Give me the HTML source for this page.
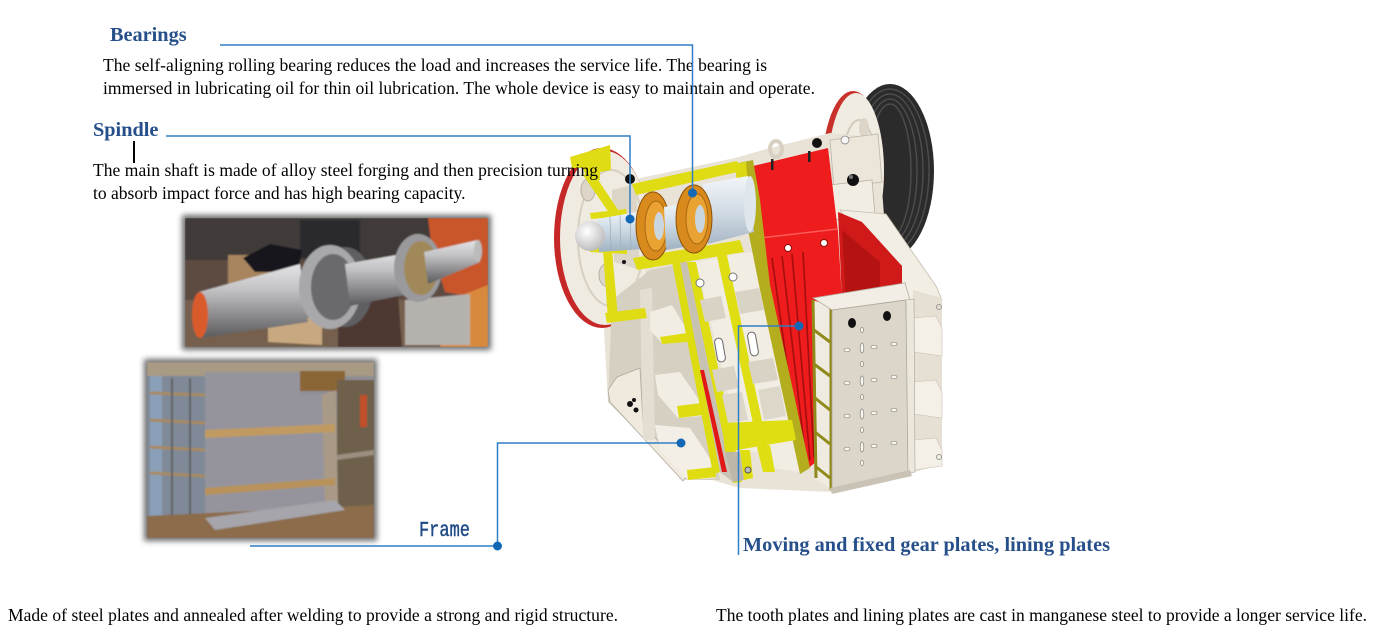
<!DOCTYPE html>
<html><head><meta charset="utf-8">
<style>
html,body{margin:0;padding:0;background:#fff;width:1381px;height:644px;overflow:hidden}
svg{display:block}
</style></head><body>
<svg width="1381" height="644" viewBox="0 0 1381 644" xmlns="http://www.w3.org/2000/svg">
<defs>
 <filter id="sh" x="-10%" y="-10%" width="120%" height="120%"><feGaussianBlur stdDeviation="3"/></filter>
 <filter id="soft" x="-5%" y="-5%" width="110%" height="110%"><feGaussianBlur stdDeviation="0.8"/></filter>
 <linearGradient id="steel" x1="0" y1="0" x2="0" y2="1">
  <stop offset="0" stop-color="#e4e4e6"/><stop offset="0.35" stop-color="#c2c2c4"/><stop offset="0.7" stop-color="#8a8a8c"/><stop offset="1" stop-color="#5a5a5c"/>
 </linearGradient>
 <linearGradient id="shaftb" x1="0" y1="0" x2="0" y2="1">
  <stop offset="0" stop-color="#eef4f8"/><stop offset="0.5" stop-color="#c9d7e2"/><stop offset="1" stop-color="#9fb2c2"/>
 </linearGradient>
 <linearGradient id="cyl" x1="0" y1="0" x2="0" y2="1">
  <stop offset="0" stop-color="#f2f5f8"/><stop offset="0.5" stop-color="#d3dde6"/><stop offset="1" stop-color="#a9b8c6"/>
 </linearGradient>
 <radialGradient id="dome" cx="0.4" cy="0.35" r="0.7">
  <stop offset="0" stop-color="#ffffff"/><stop offset="1" stop-color="#b9b9b9"/>
 </radialGradient>
 <clipPath id="p1"><rect x="185" y="218" width="303" height="129"/></clipPath>
 <clipPath id="p2"><rect x="147" y="362" width="227" height="176"/></clipPath>
</defs>

<!-- ================= PHOTO 1 (shaft) ================= -->
<rect x="182" y="215" width="309" height="135" fill="#555" filter="url(#sh)" opacity="0.85"/>
<g clip-path="url(#p1)"><g filter="url(#soft)">
 <rect x="185" y="218" width="303" height="129" fill="#5d4c42"/>
 <rect x="185" y="218" width="303" height="42" fill="#3f3a38"/>
 <rect x="185" y="300" width="303" height="47" fill="#76604e"/>
 <rect x="300" y="220" width="60" height="38" fill="#2a2a2e"/>
 <polygon points="428,218 488,218 488,300 445,292 432,250" fill="#c8562a"/>
 <polygon points="455,298 488,285 488,347 440,347" fill="#d9893c"/>
 <rect x="228" y="255" width="68" height="40" fill="#a8845f"/>
 <polygon points="243,258 270,244 302,250 298,272 255,272" fill="#16161e"/>
 <polygon points="405,300 470,294 470,345 405,345" fill="#b5b2ae"/>
 <polygon points="338,300 398,294 402,347 338,347" fill="#4d3830"/>
 <polygon points="268,316 322,318 322,345 268,342" fill="#c8a880"/>
 <polygon points="199,292 300,264 308,322 201,338" fill="url(#steel)"/>
 <ellipse cx="200" cy="315" rx="8" ry="23" fill="#d95a2a"/>
 <ellipse cx="345" cy="287" rx="28" ry="40" fill="#5e5e62"/>
 <ellipse cx="330" cy="287" rx="31" ry="42" fill="#a8a8ab"/>
 <ellipse cx="333" cy="287" rx="22" ry="33" fill="#6a6a6e"/>
 <polygon points="345,264 425,250 428,290 350,306" fill="url(#steel)"/>
 <ellipse cx="418" cy="268" rx="24" ry="34" fill="#9a9a9c"/>
 <ellipse cx="421" cy="268" rx="17" ry="27" fill="#a08858"/>
 <polygon points="424,252 478,240 480,262 428,284" fill="url(#steel)"/>
 <ellipse cx="478" cy="251" rx="4" ry="11" fill="#bbb"/>
</g></g>

<!-- ================= PHOTO 2 (frame) ================= -->
<rect x="144" y="359" width="233" height="182" fill="#555" filter="url(#sh)" opacity="0.85"/>
<g clip-path="url(#p2)"><g filter="url(#soft)">
 <rect x="147" y="362" width="227" height="176" fill="#8f8e94"/>
 <rect x="147" y="362" width="227" height="14" fill="#a99a84"/>
 <rect x="147" y="376" width="58" height="150" fill="#7f8997"/>
 <rect x="150" y="376" width="12" height="145" fill="#8aa0b8"/>
 <g stroke="#a88a60" stroke-width="3">
  <line x1="150" y1="393" x2="205" y2="395"/><line x1="150" y1="420" x2="205" y2="423"/>
  <line x1="150" y1="447" x2="205" y2="450"/><line x1="150" y1="473" x2="205" y2="476"/>
 </g>
 <g stroke="#5e5f66" stroke-width="2"><line x1="172" y1="378" x2="172" y2="520"/><line x1="190" y1="378" x2="190" y2="520"/></g>
 <polygon points="205,372 300,372 300,395 322,395 335,388 335,500 205,520" fill="#95949c"/>
 <rect x="300" y="371" width="45" height="20" fill="#8a6536"/>
 <rect x="337" y="380" width="37" height="150" fill="#6e604c"/>
 <rect x="360" y="395" width="7" height="32" fill="#c0502c"/>
 <polygon points="322,395 336,390 338,505 325,510" fill="#a89a86"/>
 <polygon points="205,430 335,424 335,432 205,438" fill="#c09a60"/>
 <polygon points="205,488 335,478 335,485 205,495" fill="#b8925a"/>
 <polygon points="337,455 374,450 374,455 337,460" fill="#9c8f80"/>
 <polygon points="147,516 374,505 374,538 147,538" fill="#8c6c4c"/>
 <polygon points="205,518 335,500 345,510 215,530" fill="#a6a5ab"/>
</g></g>

<!-- ================= CRUSHER ================= -->
<!-- right flywheel -->
<ellipse cx="890" cy="171" rx="44" ry="87" fill="#2b2b2b"/>
<g fill="none" stroke="#4d4d4d" stroke-width="1.4">
 <ellipse cx="890" cy="171" rx="39" ry="82"/><ellipse cx="890" cy="171" rx="33" ry="77"/>
 <ellipse cx="890" cy="171" rx="27" ry="72"/><ellipse cx="890" cy="171" rx="21" ry="67"/>
</g>
<ellipse cx="853" cy="171" rx="31" ry="80" fill="#c8322a"/>
<ellipse cx="856" cy="171" rx="28" ry="78" fill="#f1ece2"/>
<ellipse cx="859" cy="170" rx="17" ry="50" fill="none" stroke="#d2cbbe" stroke-width="2"/>
<ellipse cx="864" cy="128" rx="5" ry="10" fill="#ddd5c7"/>

<!-- main body backdrop -->
<polygon points="606,205 640,178 735,158 770,148 830,133 878,138 884,215 935,285 942,300 942,462 912,473 832,492 740,488 712,480 686,480 608,402 604,330" fill="#e9e3d7"/>

<!-- right bearing housing -->
<polygon points="830,140 878,134 882,182 834,188" fill="#ebe5da" stroke="#bdb6a8" stroke-width="0.8"/>
<polygon points="830,185 872,180 875,215 834,220" fill="#f2ede3" stroke="#b9b2a4" stroke-width="0.8"/>
<circle cx="853" cy="180" r="6" fill="#111"/><circle cx="851" cy="177" r="2" fill="#777"/>
<circle cx="817" cy="143" r="5" fill="#111"/>
<circle cx="845" cy="140" r="4" fill="#f6f6f6" stroke="#888" stroke-width="0.8"/>
<!-- right rail -->
<polygon points="840,210 886,214 936,286 942,300 906,300 875,262" fill="#f3eee4" stroke="#c4bdb0" stroke-width="0.8"/>
<!-- lifting lug -->
<ellipse cx="776" cy="149" rx="6" ry="8" fill="none" stroke="#d8d0c2" stroke-width="4"/>

<!-- red side panel -->
<polygon points="838,212 862,222 902,266 902,292 880,298 842,300" fill="#d01a1a"/>
<polygon points="842,230 880,262 880,296 846,300" fill="#b51212"/>
<!-- red block + fixed jaw -->
<polygon points="753,166 828,148 838,232 842,300 820,300 816,462 806,470 768,290 758,200" fill="#ee1c1c"/>
<line x1="760" y1="238" x2="838" y2="229" stroke="#ff5a5a" stroke-width="1.5"/>
<circle cx="788" cy="248" r="3.5" fill="#fff" stroke="#8a0c0c"/>
<circle cx="824" cy="243" r="3.5" fill="#fff" stroke="#8a0c0c"/>
<rect x="771" y="159" width="2.5" height="11" fill="#222"/>
<rect x="808" y="151" width="2.5" height="11" fill="#222"/>
<g stroke="#a50e0e" stroke-width="1.6">
 <line x1="772" y1="258" x2="801" y2="465"/><line x1="782" y1="256" x2="806" y2="462"/>
 <line x1="792" y1="254" x2="810" y2="460"/><line x1="803" y1="252" x2="814" y2="458"/>
</g>

<!-- left flywheel -->
<ellipse cx="602" cy="238" rx="48" ry="90" fill="#c62828"/>
<ellipse cx="605" cy="238" rx="45" ry="87" fill="#f0ebe1"/>
<ellipse cx="611" cy="238" rx="33" ry="68" fill="none" stroke="#d6cfc2" stroke-width="2"/>
<ellipse cx="588" cy="190" rx="7" ry="11" fill="#ddd6c8" stroke="#b8b0a0"/>
<ellipse cx="606" cy="275" rx="7" ry="11" fill="#ddd6c8" stroke="#b8b0a0"/>

<!-- housing region right of flywheel -->
<polygon points="612,190 636,184 640,270 614,262" fill="#dcd6c9"/>
<circle cx="630" cy="179" r="5" fill="#111"/>
<circle cx="624" cy="262" r="2" fill="#111"/><circle cx="612" cy="248" r="2" fill="#111"/>

<!-- left frame lower section -->
<polygon points="612,300 650,270 690,262 720,480 686,480 608,402" fill="#d6d0c3"/>
<polygon points="608,390 617,377 640,368 643,423 687,476 683,481 610,402" fill="#efe9de" stroke="#b0a99c" stroke-width="0.8"/>
<polygon points="640,290 652,288 655,440 643,440" fill="#e4ded2"/>
<polygon points="650,312 672,305 687,330 687,340 662,343 650,330" fill="#f2ede3"/>
<polygon points="660,337 687,333 687,342 662,344" fill="#e0dc12"/>
<polygon points="655,375 680,372 702,404 702,416 678,418 658,395" fill="#f2ede3"/>
<polygon points="677,406 702,403 703,415 679,418" fill="#e0dc12"/>
<polygon points="655,425 690,428 715,466 715,478 688,480 660,450" fill="#f4efe6"/>
<polygon points="687,470 715,467 716,477 688,480" fill="#e0dc12"/>
<g fill="#111"><circle cx="630" cy="404" r="3"/><circle cx="636" cy="410" r="2.5"/><circle cx="634" cy="400" r="2"/></g>

<!-- cut strips and pitman -->
<polygon points="672,262 680,262 720,472 713,474" fill="#dcdc10"/>
<polygon points="680,262 688,262 733,482 720,472" fill="#c8c2b5"/>
<polygon points="700,370 704,370 727,472 722,472" fill="#e01818"/>
<polygon points="687,262 696,262 742,482 733,483" fill="#dede12"/>
<polygon points="696,262 717,258 760,452 742,452" fill="#f2ede3"/>
<polygon points="700,300 721,296 726,318 705,322" fill="#d9d3c6"/>
<polygon points="712,370 734,366 739,388 717,392" fill="#d9d3c6"/>
<polygon points="722,395 742,392 748,420 728,423" fill="#ddd7ca"/>
<polygon points="717,256 727,255 772,468 763,470" fill="#dede12"/>
<polygon points="727,255 753,252 800,472 772,468" fill="#f2ede3"/>
<polygon points="735,292 759,288 764,310 740,314" fill="#d9d3c6"/>
<polygon points="748,362 773,358 778,380 753,384" fill="#d9d3c6"/>
<polygon points="758,390 780,386 786,416 764,420" fill="#ddd7ca"/>
<!-- olive fixed jaw frame -->
<polygon points="734,164 753,160 760,200 770,285 810,468 800,474 760,290 748,230" fill="#b4ae1e"/>
<polygon points="735,164 746,162 752,230 742,232" fill="#dcd814"/>
<!-- slots and holes -->
<rect x="716" y="338" width="8" height="24" rx="4" fill="#fff" stroke="#666" transform="rotate(-10 720 350)"/>
<rect x="749" y="332" width="8" height="24" rx="4" fill="#fff" stroke="#666" transform="rotate(-10 753 344)"/>
<circle cx="700" cy="283" r="4" fill="#fff" stroke="#777"/>
<circle cx="733" cy="277" r="4" fill="#fff" stroke="#777"/>
<!-- bottom band -->
<polygon points="722,423 792,420 796,440 725,452" fill="#dede12"/>
<polygon points="725,452 740,452 744,480 733,482" fill="#bdb7aa"/>
<polygon points="740,450 750,450 753,478 744,480" fill="#dede12"/>
<polygon points="757,447 770,445 775,472 763,472" fill="#dede12"/>
<circle cx="748" cy="470" r="3" fill="#bbb" stroke="#555"/>

<!-- yellow hub section of left flywheel -->
<polygon points="570,157 610,145 611,170 600,172 600,180 588,183 583,168 572,168" fill="#e0dc14"/>
<polygon points="583,175 593,172 620,213 612,217" fill="#e0dc14"/>
<polygon points="590,213 626,209 627,216 591,219" fill="#e0dc14"/>
<polygon points="590,246 627,248 627,254 590,252" fill="#e0dc14"/>
<polygon points="603,250 612,250 618,318 608,320" fill="#e0dc14"/>
<polygon points="605,313 645,308 647,318 607,323" fill="#e0dc14"/>
<!-- bearing housing yellow -->
<polygon points="632,184 737,161 742,171 636,195" fill="#e0dc14"/>
<polygon points="633,258 740,240 744,252 637,270" fill="#e0dc14"/>

<!-- shaft and bearings -->
<polygon points="597,219 642,211 644,249 599,252" fill="url(#shaftb)"/>
<g stroke="#9fb0be" stroke-width="0.8"><line x1="610" y1="217" x2="611" y2="251"/><line x1="620" y1="215" x2="621" y2="251"/><line x1="630" y1="213" x2="631" y2="250"/></g>
<ellipse cx="590" cy="236" rx="15" ry="15" fill="url(#dome)"/>
<ellipse cx="653" cy="226" rx="17" ry="34" fill="#d98a1c" stroke="#8a5008" stroke-width="1"/>
<ellipse cx="656" cy="226" rx="11" ry="25" fill="#eaa232" stroke="#a86812" stroke-width="1"/>
<ellipse cx="659" cy="226" rx="5" ry="14" fill="#c9d6e0"/>
<polygon points="664,207 682,204 684,247 666,250" fill="url(#shaftb)"/>
<polygon points="703,184 748,176 754,232 708,244" fill="url(#cyl)"/>
<ellipse cx="750" cy="204" rx="6" ry="28" fill="#dfe6ec"/>
<ellipse cx="694" cy="219" rx="18" ry="34" fill="#d98a1c" stroke="#8a5008" stroke-width="1"/>
<ellipse cx="697" cy="219" rx="11" ry="25" fill="#eaa232" stroke="#a86812" stroke-width="1"/>
<ellipse cx="700" cy="219" rx="5" ry="14" fill="#c9d6e0"/>

<!-- end plate -->
<polygon points="913,290 942,298 942,465 913,472" fill="#e6e0d4"/>
<polygon points="914,318 936,316 942,328 942,356 914,352" fill="#f5f0e7" stroke="#c9c2b5" stroke-width="0.6"/>
<polygon points="914,382 936,380 942,392 942,418 914,414" fill="#f5f0e7" stroke="#c9c2b5" stroke-width="0.6"/>
<polygon points="914,440 936,438 942,450 942,466 914,470" fill="#f5f0e7" stroke="#c9c2b5" stroke-width="0.6"/>
<circle cx="939" cy="307" r="2.5" fill="none" stroke="#999"/>
<circle cx="939" cy="457" r="2.5" fill="none" stroke="#999"/>
<polygon points="812,300 832,306 832,490 815,478" fill="#f0ebe1"/>
<g stroke="#8f8a1a" stroke-width="3" fill="none">
 <line x1="813" y1="300" x2="816" y2="478"/><line x1="831" y1="306" x2="831" y2="490"/>
 <line x1="814" y1="330" x2="830" y2="342"/><line x1="814" y1="364" x2="830" y2="376"/>
 <line x1="815" y1="398" x2="830" y2="410"/><line x1="815" y1="432" x2="830" y2="444"/>
 <line x1="815" y1="466" x2="830" y2="478"/>
</g>
<polygon points="813,298 905,283 910,300 832,310" fill="#f3eee5" stroke="#b3ac9e" stroke-width="0.8"/>
<polygon points="832,310 906,300 908,473 832,490" fill="#dcd6ca" stroke="#aaa396" stroke-width="0.8"/>
<polygon points="906,300 914,299 915,472 908,473" fill="#ece7dc" stroke="#aaa396" stroke-width="0.6"/>
<polygon points="830,488 910,470 912,476 832,494" fill="#c9c2b5"/>
<ellipse cx="852" cy="323" rx="4" ry="5" fill="#111"/>
<ellipse cx="887" cy="316" rx="4" ry="5" fill="#111"/>
<g fill="#f8f6f0" stroke="#8a8478" stroke-width="0.7">
 <ellipse cx="847" cy="350" rx="3" ry="1.8"/><ellipse cx="874" cy="347" rx="3" ry="1.8"/><ellipse cx="894" cy="344" rx="3" ry="1.8"/>
 <ellipse cx="847" cy="383" rx="3" ry="1.8"/><ellipse cx="874" cy="380" rx="3" ry="1.8"/><ellipse cx="894" cy="377" rx="3" ry="1.8"/>
 <ellipse cx="847" cy="416" rx="3" ry="1.8"/><ellipse cx="874" cy="413" rx="3" ry="1.8"/><ellipse cx="894" cy="410" rx="3" ry="1.8"/>
 <ellipse cx="847" cy="449" rx="3" ry="1.8"/><ellipse cx="874" cy="446" rx="3" ry="1.8"/><ellipse cx="894" cy="443" rx="3" ry="1.8"/>
 <ellipse cx="862" cy="348" rx="1.8" ry="5"/><ellipse cx="862" cy="381" rx="1.8" ry="5"/>
 <ellipse cx="862" cy="414" rx="1.8" ry="5"/><ellipse cx="862" cy="447" rx="1.8" ry="5"/>
 <ellipse cx="862" cy="330" rx="1.5" ry="2.5"/><ellipse cx="862" cy="364" rx="1.5" ry="2.5"/>
 <ellipse cx="862" cy="397" rx="1.5" ry="2.5"/><ellipse cx="862" cy="430" rx="1.5" ry="2.5"/><ellipse cx="862" cy="463" rx="1.5" ry="2.5"/>
</g>

<!-- ================= TEXT ================= -->
<g font-family="'Liberation Serif', serif">
 <text x="110" y="41" font-size="20.3" font-weight="bold" fill="#27508b">Bearings</text>
 <text x="103" y="71" font-size="17.5" fill="#000" textLength="664" lengthAdjust="spacing">The self-aligning rolling bearing reduces the load and increases the service life. The bearing is</text>
 <text x="103" y="94" font-size="17.5" fill="#000" textLength="712" lengthAdjust="spacing">immersed in lubricating oil for thin oil lubrication. The whole device is easy to maintain and operate.</text>
 <text x="93" y="136" font-size="20.3" font-weight="bold" fill="#27508b">Spindle</text>
 <text x="93" y="176" font-size="17.5" fill="#000" textLength="505" lengthAdjust="spacing">The main shaft is made of alloy steel forging and then precision turning</text>
 <text x="93" y="199" font-size="17.5" fill="#000">to absorb impact force and has high bearing capacity.</text>
 <text x="743" y="551" font-size="20.3" font-weight="bold" fill="#27508b" textLength="367" lengthAdjust="spacing">Moving and fixed gear plates, lining plates</text>
 <text x="8" y="621" font-size="17.5" fill="#000" textLength="610" lengthAdjust="spacing">Made of steel plates and annealed after welding to provide a strong and rigid structure.</text>
 <text x="716" y="621" font-size="17.5" fill="#000" textLength="651" lengthAdjust="spacing">The tooth plates and lining plates are cast in manganese steel to provide a longer service life.</text>
</g>
<text transform="translate(419,536) scale(1,1.25)" font-family="'Liberation Mono', monospace" font-size="17" fill="#1f4a86" stroke="#1f4a86" stroke-width="0.35" textLength="51" lengthAdjust="spacing">Frame</text>

<!-- ================= CONNECTORS ================= -->
<line x1="134" y1="141" x2="134" y2="163" stroke="#000" stroke-width="2"/>
<g fill="none" stroke="#2f7fc6" stroke-width="1.5">
 <polyline points="220,45 692.5,45 692.5,193"/>
 <polyline points="166,136 630,136 630,218"/>
 <polyline points="250,546 497.5,546 497.5,443 681,443"/>
 <polyline points="738.5,555 738.5,326 799,326"/>
</g>
<g fill="#1268b5">
 <circle cx="692.5" cy="193" r="4.5"/>
 <circle cx="630" cy="219" r="4.5"/>
 <circle cx="497.5" cy="546" r="4.5"/>
 <circle cx="681" cy="443" r="4.5"/>
 <circle cx="799" cy="326" r="4.5"/>
</g>
</svg>
</body></html>
